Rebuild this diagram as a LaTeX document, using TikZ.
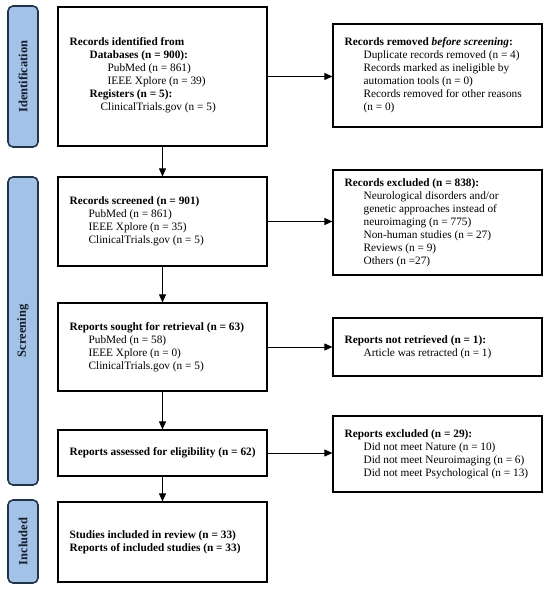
\documentclass[tikz,border=0pt]{standalone}
\usepackage{fontspec}
\setmainfont{Liberation Serif}
\usetikzlibrary{arrows.meta}
\definecolor{phasefill}{HTML}{A3C2E8}
\definecolor{phaseline}{HTML}{22344A}
\definecolor{phasetext}{HTML}{141C26}
\tikzset{
  boxshape/.style={draw=black, line width=1.2pt, minimum width=209pt, inner sep=0pt},
  boxtext/.style={anchor=west, align=left, inner sep=0pt, font=\fontsize{11.3}{13}\selectfont},
  phase/.style={draw=phaseline, fill=phasefill, line width=1.6pt, rounded corners=5pt, minimum width=30pt, inner sep=0pt},
  phaselabel/.style={rotate=90, text=phasetext, font=\fontsize{12.5}{14}\selectfont\bfseries},
  conn/.style={line width=0.8pt, -{Triangle[length=8pt,width=7pt]}}
}
\begin{document}
\begin{tikzpicture}[x=1pt,y=-1pt]
\useasboundingbox (0,0) rectangle (550,591);
% phases
\node[phase, minimum height=141pt] (p1) at (23,76.5) {};
\node[phaselabel] (p1t) at (p1) {Identification};
\node[phase, minimum height=308pt] (p2) at (23,331) {};
\node[phaselabel] (p2t) at (p2) {Screening};
\node[phase, minimum height=83pt] (p3) at (23,541.5) {};
\node[phaselabel] (p3t) at (p3) {Included};
% main boxes
\node[boxshape, minimum height=139pt] (b1) at (162.5,76.5) {};
\node[boxtext] (b1t) at ([xshift=12pt,yshift=1pt]b1.west) {\textbf{Records identified from}\\
\hspace*{20pt}\textbf{Databases (n = 900):}\\
\hspace*{38pt}PubMed (n = 861)\\
\hspace*{38pt}IEEE Xplore (n = 39)\\
\hspace*{20pt}\textbf{Registers (n = 5):}\\
\hspace*{31pt}ClinicalTrials.gov (n = 5)};
\node[boxshape, minimum height=89pt] (b2) at (162.5,221.5) {};
\node[boxtext] (b2t) at ([xshift=12pt]b2.west) {\textbf{Records screened (n = 901)}\\
\hspace*{19pt}PubMed (n = 861)\\
\hspace*{19pt}IEEE Xplore (n = 35)\\
\hspace*{19pt}ClinicalTrials.gov (n = 5)};
\node[boxshape, minimum height=88pt] (b3) at (162.5,347) {};
\node[boxtext] (b3t) at ([xshift=12pt]b3.west) {\textbf{Reports sought for retrieval (n = 63)}\\
\hspace*{19pt}PubMed (n = 58)\\
\hspace*{19pt}IEEE Xplore (n = 0)\\
\hspace*{19pt}ClinicalTrials.gov (n = 5)};
\node[boxshape, minimum height=46pt] (b4) at (162.5,453) {};
\node[boxtext] (b4t) at ([xshift=12pt]b4.west) {\textbf{Reports assessed for eligibility (n = 62)}};
\node[boxshape, minimum height=80pt] (b5) at (162.5,542) {};
\node[boxtext] (b5t) at ([xshift=12pt]b5.west) {\textbf{Studies included in review (n = 33)}\\
\textbf{Reports of included studies (n = 33)}};
% right boxes
\node[boxshape, minimum height=103pt] (r1) at (437.5,75.5) {};
\node[boxtext] (r1t) at ([xshift=12pt,yshift=0pt]r1.west) {\textbf{Records removed \textit{before screening}:}\\
\hspace*{19pt}Duplicate records removed (n = 4)\\
\hspace*{19pt}Records marked as ineligible by\\
\hspace*{19pt}automation tools (n = 0)\\
\hspace*{19pt}Records removed for other reasons\\
\hspace*{19pt}(n = 0)};
\node[boxshape, minimum height=105pt] (r2) at (437.5,222.5) {};
\node[boxtext] (r2t) at ([xshift=12pt]r2.west) {\textbf{Records excluded (n = 838):}\\
\hspace*{19pt}Neurological disorders and/or\\
\hspace*{19pt}genetic approaches instead of\\
\hspace*{19pt}neuroimaging (n = 775)\\
\hspace*{19pt}Non-human studies (n = 27)\\
\hspace*{19pt}Reviews (n = 9)\\
\hspace*{19pt}Others (n =27)};
\node[boxshape, minimum height=58pt] (r3) at (437.5,347) {};
\node[boxtext] (r3t) at ([xshift=12pt]r3.west) {\textbf{Reports not retrieved (n = 1):}\\
\hspace*{19pt}Article was retracted (n = 1)};
\node[boxshape, minimum height=76pt] (r4) at (437.5,454) {};
\node[boxtext] (r4t) at ([xshift=12pt]r4.west) {\textbf{Reports excluded (n = 29):}\\
\hspace*{19pt}Did not meet Nature (n = 10)\\
\hspace*{19pt}Did not meet Neuroimaging (n = 6)\\
\hspace*{19pt}Did not meet Psychological (n = 13)};
% connectors
\draw[conn] (b1.south) -- (b2.north);
\draw[conn] (b2.south) -- (b3.north);
\draw[conn] (b3.south) -- (b4.north);
\draw[conn] (b4.south) -- (b5.north);
\draw[conn] (b1.east) -- (b1.east -| r1.west);
\draw[conn] (b2.east) -- (b2.east -| r2.west);
\draw[conn] (b3.east) -- (b3.east -| r3.west);
\draw[conn] (b4.east) -- (b4.east -| r4.west);
\end{tikzpicture}
\end{document}
